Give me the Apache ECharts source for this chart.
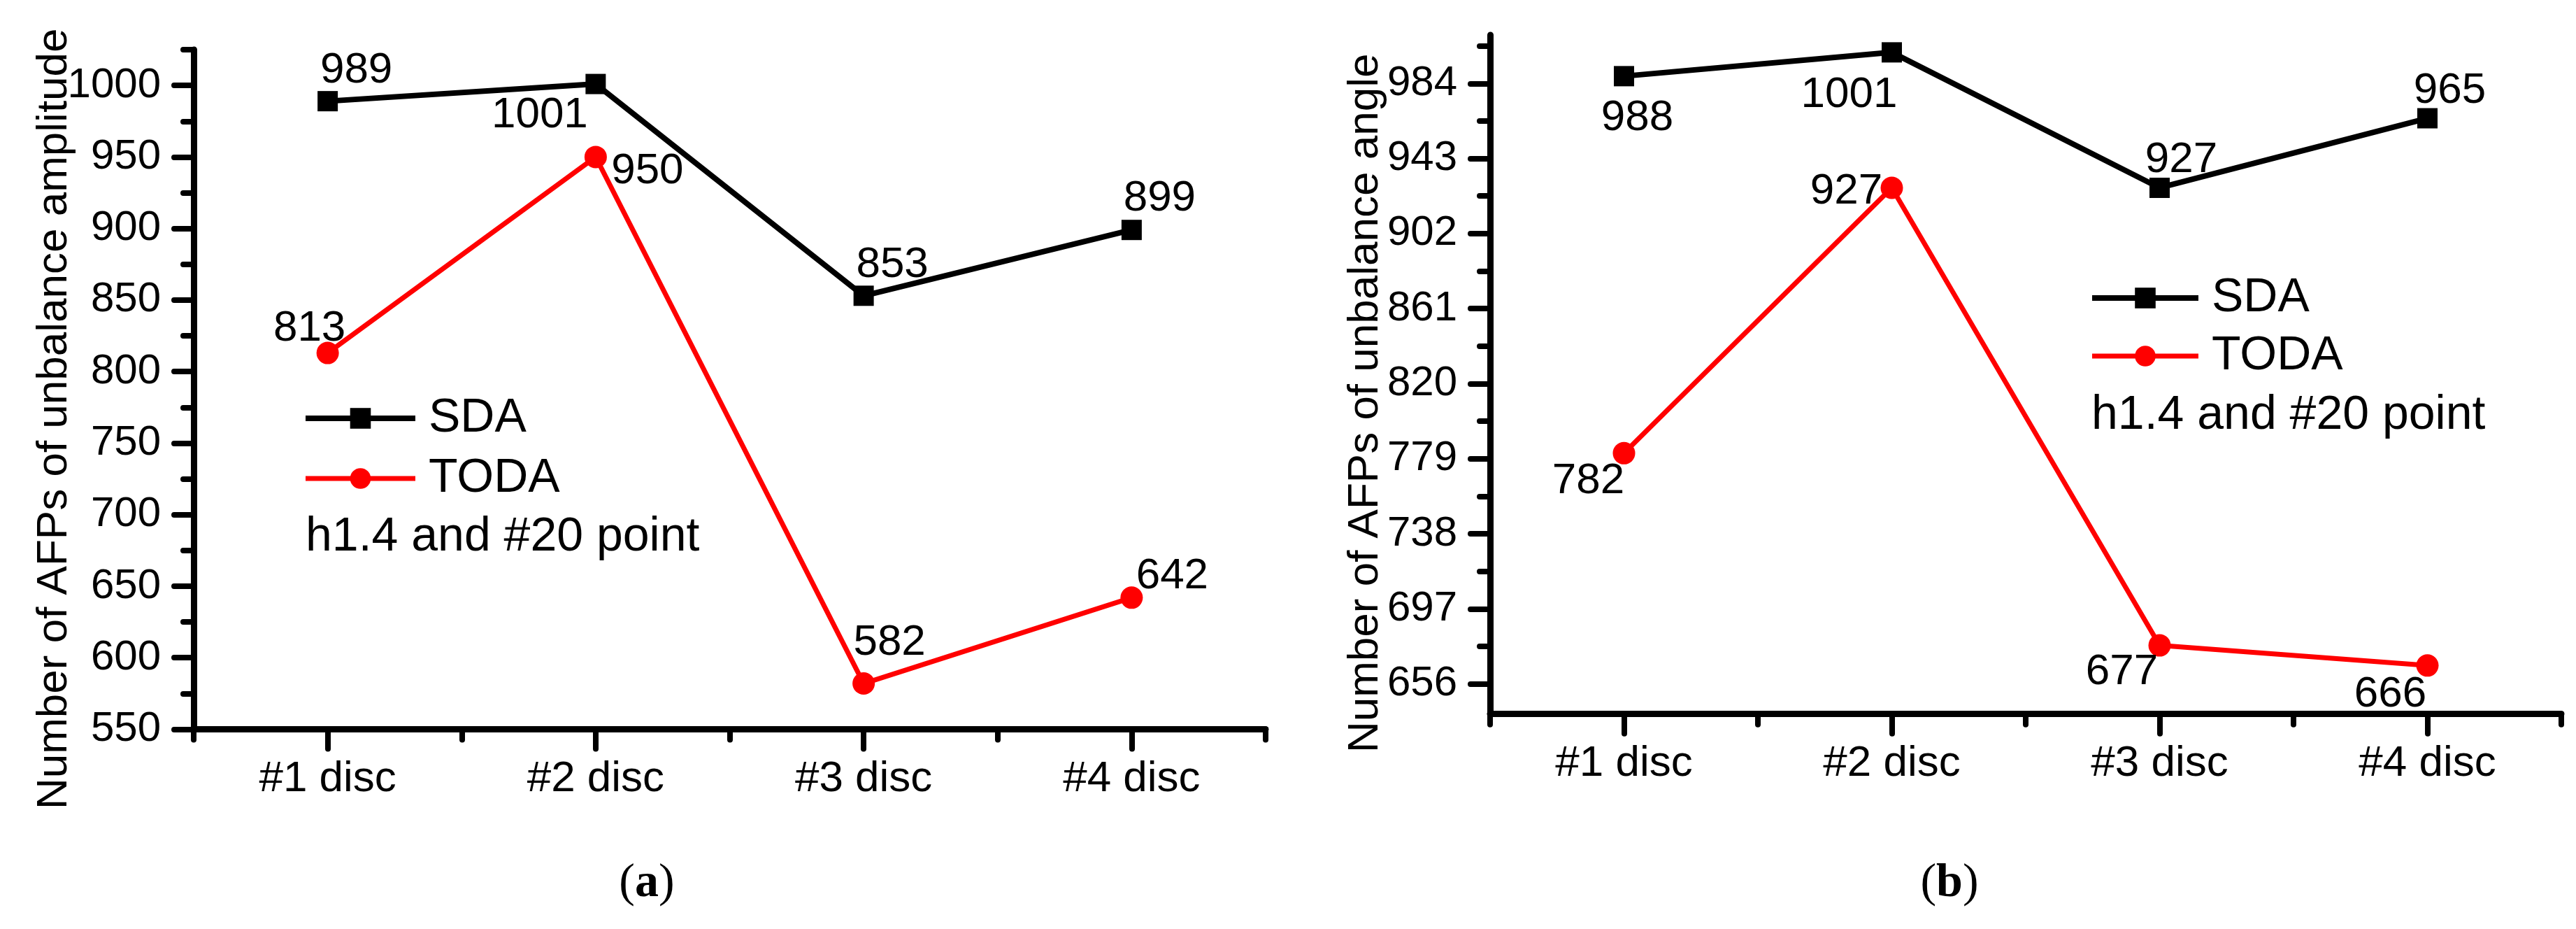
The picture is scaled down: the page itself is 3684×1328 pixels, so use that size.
<!DOCTYPE html>
<html><head><meta charset="utf-8">
<script src="https://cdn.jsdelivr.net/npm/echarts@6/dist/echarts.min.js"></script>
<style>html,body{margin:0;padding:0;background:#fff}#c{width:3684px;height:1328px}</style>
</head><body><div id="c"></div>
<script>
// ---- data ----
const categories = ['#1 disc', '#2 disc', '#3 disc', '#4 disc'];
const sdaAmplitude = [989, 1001, 853, 899];
const todaAmplitude = [813, 950, 582, 642];
const sdaAngle = [988, 1001, 927, 965];
const todaAngle = [782, 927, 677, 666];
const ticksA = [550, 600, 650, 700, 750, 800, 850, 900, 950, 1000];
const ticksB = [656, 697, 738, 779, 820, 861, 902, 943, 984];
const rangeA = [550, 1025];
const rangeB = [639.5, 1010.5];
const titleA = 'Number of AFPs of unbalance amplitude';
const titleB = 'Number of AFPs of unbalance angle';
const noteText = 'h1.4 and #20 point';

// ---- style (label offsets in px) ----
const offA_sda = [[41, -44], [-80, 45], [41, -44], [40, -45]];
const offA_toda = [[-26, -35], [74, 21], [37, -58], [58, -30]];
const offB_sda = [[19, 60], [-61, 61], [31, -40], [32, -39]];
const offB_toda = [[-51, 40], [-65, 5], [-54, 38], [-53, 42]];

const minorA = ticksA.map(v => v + (ticksA[1] - ticksA[0]) / 2);
const minorB = ticksB.map(v => v + (ticksB[1] - ticksB[0]) / 2);

const FONT = '"Liberation Sans", Arial, sans-serif';
const SERIF = '"Liberation Serif", "Times New Roman", serif';
const AX = 9;

function xAxes(grid) {
  return [
    {
      gridIndex: grid, type: 'category', data: categories, boundaryGap: true,
      axisLine: { show: true, lineStyle: { color: '#000', width: AX } },
      axisTick: { show: true, alignWithLabel: true, interval: 0, length: 28, lineStyle: { color: '#000', width: 8, cap: 'round' } },
      axisLabel: { show: true, interval: 0, color: '#000', fontSize: 62, fontFamily: FONT, margin: 40 },
      splitLine: { show: false }
    },
    {
      gridIndex: grid, type: 'category', data: categories, boundaryGap: true, position: 'bottom',
      axisLine: { show: false },
      axisTick: { show: true, interval: 0, length: 15, lineStyle: { color: '#000', width: 8, cap: 'round' } },
      axisLabel: { show: false },
      splitLine: { show: false }
    }
  ];
}

function yAxes(grid, range, ticks, minor, title, gap, shift) {
  return [
    {
      gridIndex: grid, type: 'value', min: range[0], max: range[1],
      axisLine: { show: true, lineStyle: { color: '#000', width: AX } },
      axisTick: { show: true, length: 28, customValues: ticks, lineStyle: { color: '#000', width: 8, cap: 'round' } },
      axisLabel: { show: true, customValues: ticks, formatter: v => String(v), color: '#000', fontSize: 60, fontFamily: FONT, margin: 47 },
      splitLine: { show: false },
      name: title, nameLocation: 'middle', nameRotate: 90, nameGap: gap, nameMoveOverlap: false,
      nameTextStyle: { color: '#000', fontSize: 62, fontFamily: FONT, padding: [0, shift, 0, 0] }
    },
    {
      gridIndex: grid, type: 'value', min: range[0], max: range[1], position: 'left',
      axisLine: { show: false },
      axisTick: { show: true, length: 15, customValues: minor, lineStyle: { color: '#000', width: 8, cap: 'round' } },
      axisLabel: { show: false },
      splitLine: { show: false }
    }
  ];
}

function lineSeries(name, values, offs, xi, yi, isSda) {
  return {
    type: 'line', name: name, xAxisIndex: xi, yAxisIndex: yi,
    data: values.map((v, i) => ({ value: v, label: { offset: offs[i] } })),
    symbol: isSda ? 'rect' : 'circle',
    symbolSize: isSda ? 29 : 32,
    lineStyle: { color: isSda ? '#000' : '#ff0000', width: isSda ? 8 : 7 },
    itemStyle: { color: isSda ? '#000' : '#ff0000' },
    label: { show: true, position: 'inside', color: '#000', fontSize: 62, fontFamily: FONT },
    emphasis: { disabled: true },
    animation: false,
    z: isSda ? 3 : 4
  };
}

function legendData() {
  return [
    { name: 'SDA', lineStyle: { width: 8 } },
    { name: 'TODA', lineStyle: { width: 7 } }
  ];
}

const chart = echarts.init(document.getElementById('c'), null, { renderer: 'canvas' });
chart.setOption({
  backgroundColor: '#fff',
  animation: false,
  grid: [
    { left: 277, right: 1874, top: 71, bottom: 285.5, containLabel: false, outerBoundsMode: 'none' },
    { left: 2131, right: 21, top: 50, bottom: 307.3, containLabel: false, outerBoundsMode: 'none' }
  ],
  xAxis: xAxes(0).concat(xAxes(1)),
  yAxis: yAxes(0, rangeA, ticksA, minorA, titleA, 168, 84).concat(yAxes(1, rangeB, ticksB, minorB, titleB, 147, 82)),
  legend: [
    {
      left: 433, top: 563, orient: 'vertical', padding: 0, itemWidth: 157, itemHeight: 37, itemGap: 16,
      lineStyle: { width: 8 },
      textStyle: { color: '#000', fontSize: 68, fontFamily: FONT, lineHeight: 70, padding: [0, 0, 0, 14] },
      data: legendData(), selectedMode: false
    },
    {
      left: 2988, top: 391, orient: 'vertical', padding: 0, itemWidth: 152, itemHeight: 37, itemGap: 13,
      lineStyle: { width: 8 },
      textStyle: { color: '#000', fontSize: 68, fontFamily: FONT, lineHeight: 70, padding: [0, 0, 0, 14] },
      data: legendData(), selectedMode: false
    }
  ],
  graphic: [
    { type: 'text', left: 437, top: 768 - 35, style: { text: noteText, fill: '#000', fontSize: 68, fontFamily: FONT, lineHeight: 70 } },
    { type: 'text', left: 2991, top: 594 - 35, style: { text: noteText, fill: '#000', fontSize: 68, fontFamily: FONT, lineHeight: 70 } },
    { type: 'text', x: 925, y: 1263, style: { text: '{p|(}{b|a}{p|)}', align: 'center', verticalAlign: 'middle', rich: { p: { fontSize: 68, fontFamily: SERIF, fill: '#000' }, b: { fontSize: 68, fontFamily: SERIF, fontWeight: 'bold', fill: '#000' } } } },
    { type: 'text', x: 2788, y: 1263, style: { text: '{p|(}{b|b}{p|)}', align: 'center', verticalAlign: 'middle', rich: { p: { fontSize: 68, fontFamily: SERIF, fill: '#000' }, b: { fontSize: 68, fontFamily: SERIF, fontWeight: 'bold', fill: '#000' } } } }
  ],
  series: [
    lineSeries('SDA', sdaAmplitude, offA_sda, 0, 0, true),
    lineSeries('TODA', todaAmplitude, offA_toda, 0, 0, false),
    lineSeries('SDA', sdaAngle, offB_sda, 2, 2, true),
    lineSeries('TODA', todaAngle, offB_toda, 2, 2, false)
  ]
});
</script>
</body></html>
